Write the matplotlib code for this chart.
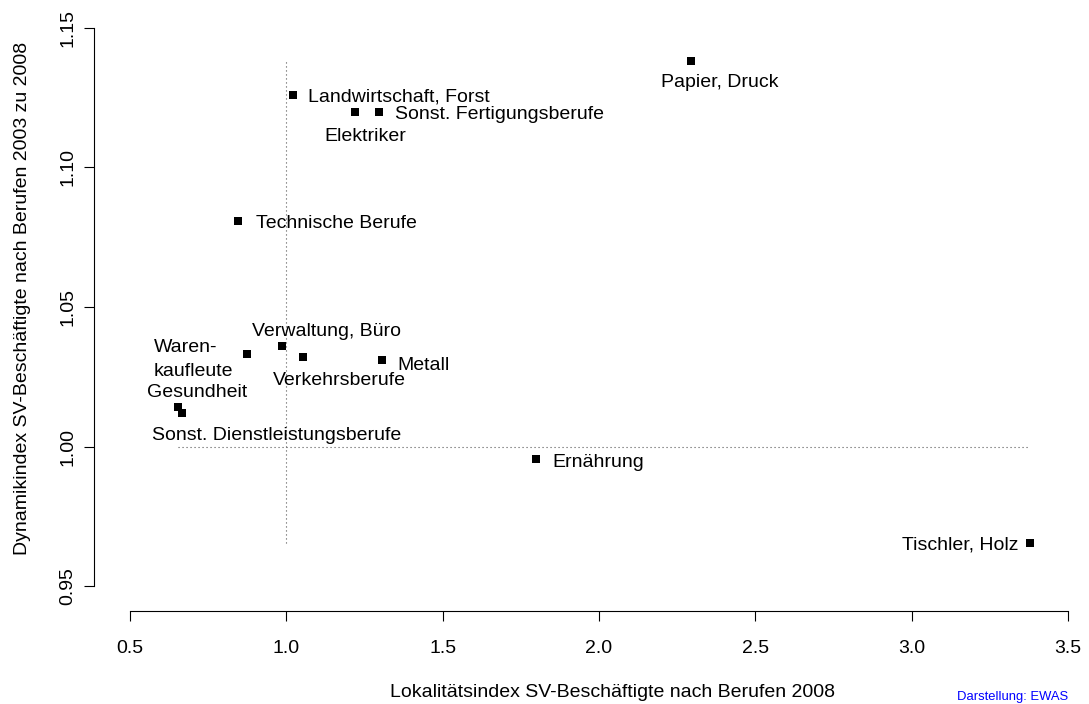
import matplotlib.pyplot as plt

plt.rcParams['font.family'] = ['Liberation Sans', 'DejaVu Sans']

# Berufsgruppen
labels = ['Papier, Druck', 'Landwirtschaft, Forst', 'Elektriker', 'Sonst. Fertigungsberufe',
          'Technische Berufe', 'Verwaltung, Büro', 'Waren-\nkaufleute', 'Verkehrsberufe',
          'Metall', 'Gesundheit', 'Sonst. Dienstleistungsberufe', 'Ernährung', 'Tischler, Holz']
# Lokalitaetsindex 2008
lok = [2.294, 1.020, 1.220, 1.297, 0.845, 0.985, 0.873, 1.053, 1.306, 0.653, 0.665, 1.799, 3.378]
# Dynamikindex 2003 zu 2008
dyn = [1.138, 1.126, 1.120, 1.120, 1.081, 1.036, 1.033, 1.032, 1.031, 1.014, 1.012, 0.9955, 0.9654]

# label placement (pixel offsets from the point, like pos= in R)
lab_dx = [-30, 15, -31, 16, 18, -30, -93, -30, 15, -31, -30, 16, -11]
lab_dy = [-26, -7, -29, -7, -7, 10, 2, -28, -10, 10, -27, -8, -6]
lab_ha = ['left'] * 12 + ['right']

fs = 14

W, H = 1089, 704
fig = plt.figure(figsize=(W / 100, H / 100), dpi=100)
ax = fig.add_axes([94 / W, (H - 610.7) / H, (W - 94) / W, (610.7 - 5) / H])
ax.set_xlim(0.3849, 3.5672)
ax.set_ylim(0.94115, 1.15824)

# reference lines
ax.plot([1, 1], [min(dyn), max(dyn)], color='#555555', lw=0.8, linestyle=(0, (1.0, 2.6)))
ax.plot([min(lok), max(lok)], [1, 1], color='#555555', lw=0.8, linestyle=(0, (1.0, 2.6)))

ax.scatter(lok, dyn, marker='s', s=34, color='black', zorder=3, linewidths=0)

for i, lab in enumerate(labels):
    for j, line in enumerate(lab.split('\n')):
        ax.annotate(line, (lok[i], dyn[i]), xytext=(lab_dx[i], lab_dy[i] - 24 * j),
                    textcoords='offset pixels', ha=lab_ha[i], va='baseline', fontsize=fs)

for s in ['top', 'right']:
    ax.spines[s].set_visible(False)
ax.spines['left'].set_bounds(0.95, 1.15)
ax.spines['bottom'].set_bounds(0.5, 3.5)
for s in ['left', 'bottom']:
    ax.spines[s].set_linewidth(0.8)

ax.set_xticks([0.5, 1.0, 1.5, 2.0, 2.5, 3.0, 3.5])
ax.set_xticklabels(['0.5', '1.0', '1.5', '2.0', '2.5', '3.0', '3.5'])
ax.set_yticks([0.95, 1.00, 1.05, 1.10, 1.15])
ax.set_yticklabels(['0.95', '1.00', '1.05', '1.10', '1.15'], rotation=90, va='center')
ax.tick_params(axis='both', direction='out', length=7.2, width=0.8, labelsize=fs)
ax.tick_params(axis='x', pad=14)
ax.tick_params(axis='y', pad=5.5)

fig.text(612 / W, (H - 697) / H, 'Lokalitätsindex SV-Beschäftigte nach Berufen 2008',
         ha='center', va='baseline', fontsize=fs)
fig.text(26.7 / W, (H - 298.5) / H, 'Dynamikindex SV-Beschäftigte nach Berufen 2003 zu 2008',
         rotation=90, rotation_mode='anchor', ha='center', va='baseline', fontsize=fs)
fig.text(1068 / W, 4 / H, 'Darstellung: EWAS', color='blue', ha='right', va='baseline', fontsize=9.4)

fig.savefig('out.png', dpi=100)
